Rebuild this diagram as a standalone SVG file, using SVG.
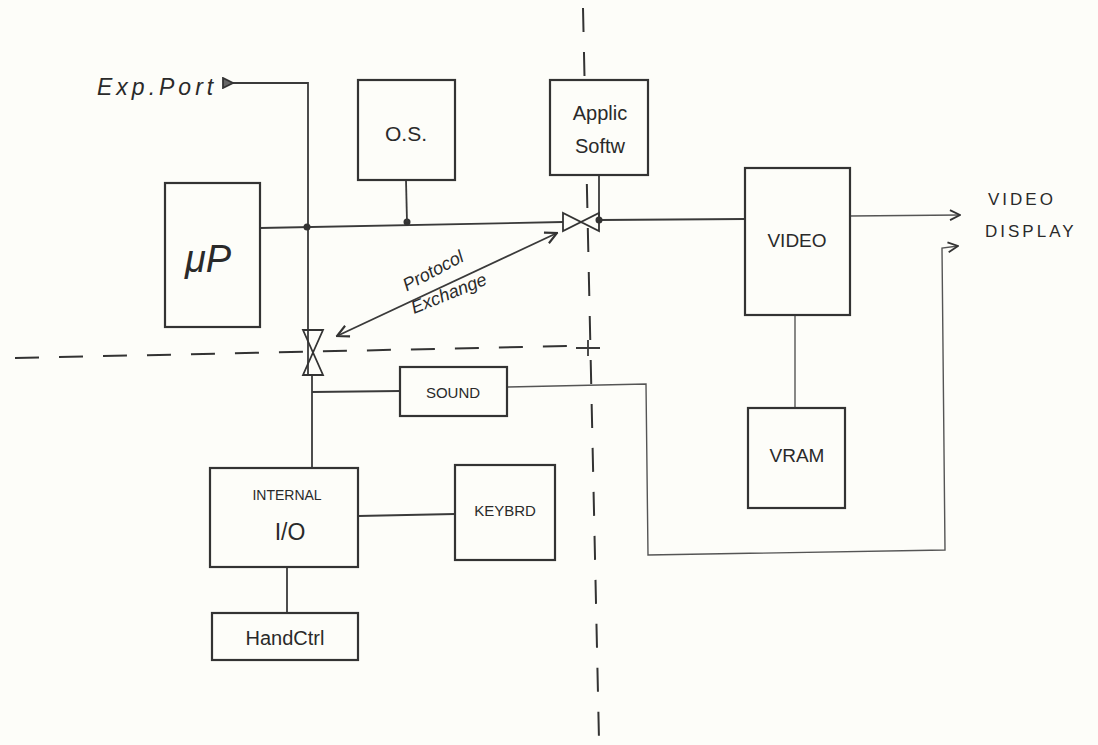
<svg xmlns="http://www.w3.org/2000/svg" width="1098" height="745" viewBox="0 0 1098 745">
<defs>
<style>
.box{fill:#fdfdf9;stroke:#333;stroke-width:2.2}
.ln{fill:none;stroke:#3a3a3a;stroke-width:1.8}
.thin{fill:none;stroke:#555;stroke-width:1.4}
.dash{fill:none;stroke:#333;stroke-width:2;stroke-dasharray:24 20}
.t{font-family:"Liberation Sans",Arial,sans-serif;fill:#2a2a2a;text-anchor:middle}
.s{text-anchor:start}
.valve{fill:none;stroke:#333;stroke-width:1.8}
</style>
<marker id="open" viewBox="0 0 12 12" refX="11" refY="6" markerWidth="12" markerHeight="12" markerUnits="userSpaceOnUse" orient="auto-start-reverse">
<path d="M1,1 L11,6 L1,11" fill="none" stroke="#333" stroke-width="1.8"/>
</marker>
<marker id="tri" viewBox="0 0 12 12" refX="2" refY="6" markerWidth="12" markerHeight="12" markerUnits="userSpaceOnUse" orient="auto">
<path d="M11,1 L1,6 L11,11 Z" fill="#666" stroke="#333" stroke-width="1.8"/>
</marker>
<marker id="dbl" viewBox="0 0 12 12" refX="11" refY="6" markerWidth="14" markerHeight="14" markerUnits="userSpaceOnUse" orient="auto-start-reverse">
<path d="M1,1 L11,6 L1,11" fill="none" stroke="#333" stroke-width="1.8"/>
</marker>
</defs>
<rect width="1098" height="745" fill="#fdfdf9"/>

<g id="boundaries">
<path class="dash" d="M583,8 L599,740"/>
<path class="dash" d="M15,358 L570,346"/>
<path class="ln" d="M576,348 L600,348 M588,340 L588,356"/>
</g>

<g id="connectors">
<path class="ln" d="M308,375 L308,83 L232,83" marker-end="url(#tri)"/>
<path class="ln" d="M260,228 L563,222"/>
<path class="ln" d="M600,220 L745,219"/>
<circle cx="307" cy="227" r="3.5" fill="#333"/>
<circle cx="407" cy="222" r="3.5" fill="#333"/>
<circle cx="599" cy="220" r="3.5" fill="#333"/>
<path class="ln" d="M406,180 L407,222"/>
<path class="ln" d="M599,175 L599,220"/>
<path class="ln" d="M312,375 L312,467"/>
<path class="ln" d="M312,392 L400,391"/>
<path class="thin" d="M507,387 L646,384 L648,555 L945,550 L942,248 L958,246" marker-end="url(#open)"/>
<path class="thin" d="M850,216 L960,215" marker-end="url(#open)"/>
<path class="thin" d="M795,315 L795,408"/>
<path class="ln" d="M358,516 L455,514"/>
<path class="ln" d="M287,567 L287,612"/>
<path class="ln" d="M337,336 L557,233" marker-start="url(#dbl)" marker-end="url(#dbl)"/>
</g>

<g id="valve-h">
<path class="valve" d="M563,213 L563,231 L599,213 L599,231 Z"/>
</g>
<g id="valve-v">
<path class="valve" d="M303,330 L323,330 L303,375 L323,375 Z"/>
</g>

<g id="mup">
<rect class="box" x="165" y="183" width="95" height="144"/>
<text class="t" x="208" y="272" font-size="38" font-style="italic">μP</text>
</g>
<g id="os">
<rect class="box" x="358" y="80" width="97" height="100"/>
<text class="t" x="406" y="141" font-size="21">O.S.</text>
</g>
<g id="applic">
<rect class="box" x="550" y="80" width="98" height="95"/>
<text class="t" x="600" y="120" font-size="20">Applic</text>
<text class="t" x="600" y="153" font-size="20">Softw</text>
</g>
<g id="video">
<rect class="box" x="745" y="168" width="105" height="147"/>
<text class="t" x="797" y="247" font-size="19">VIDEO</text>
</g>
<g id="vram">
<rect class="box" x="748" y="408" width="97" height="100"/>
<text class="t" x="797" y="462" font-size="19">VRAM</text>
</g>
<g id="sound">
<rect class="box" x="400" y="367" width="107" height="49"/>
<text class="t" x="453" y="398" font-size="15">SOUND</text>
</g>
<g id="internal-io">
<rect class="box" x="210" y="468" width="148" height="99"/>
<text class="t" x="287" y="500" font-size="14">INTERNAL</text>
<text class="t" x="290" y="540" font-size="23">I/O</text>
</g>
<g id="keybrd">
<rect class="box" x="455" y="465" width="100" height="95"/>
<text class="t" x="505" y="516" font-size="15">KEYBRD</text>
</g>
<g id="handctrl">
<rect class="box" x="212" y="613" width="146" height="47"/>
<text class="t" x="285" y="645" font-size="20">HandCtrl</text>
</g>
<g id="exp-port">
<text class="t s" x="97" y="95" font-size="23" font-style="italic" letter-spacing="4">Exp.Port</text>
</g>
<g id="video-display">
<text class="t s" x="988" y="205" font-size="17" letter-spacing="3">VIDEO</text>
<text class="t s" x="985" y="237" font-size="17" letter-spacing="3">DISPLAY</text>
</g>
<g id="protocol">
<text class="t" font-size="18" font-style="italic" transform="translate(436,276) rotate(-28)">Protocol</text>
<text class="t" font-size="18" font-style="italic" transform="translate(451,299) rotate(-22)">Exchange</text>
</g>
</svg>
